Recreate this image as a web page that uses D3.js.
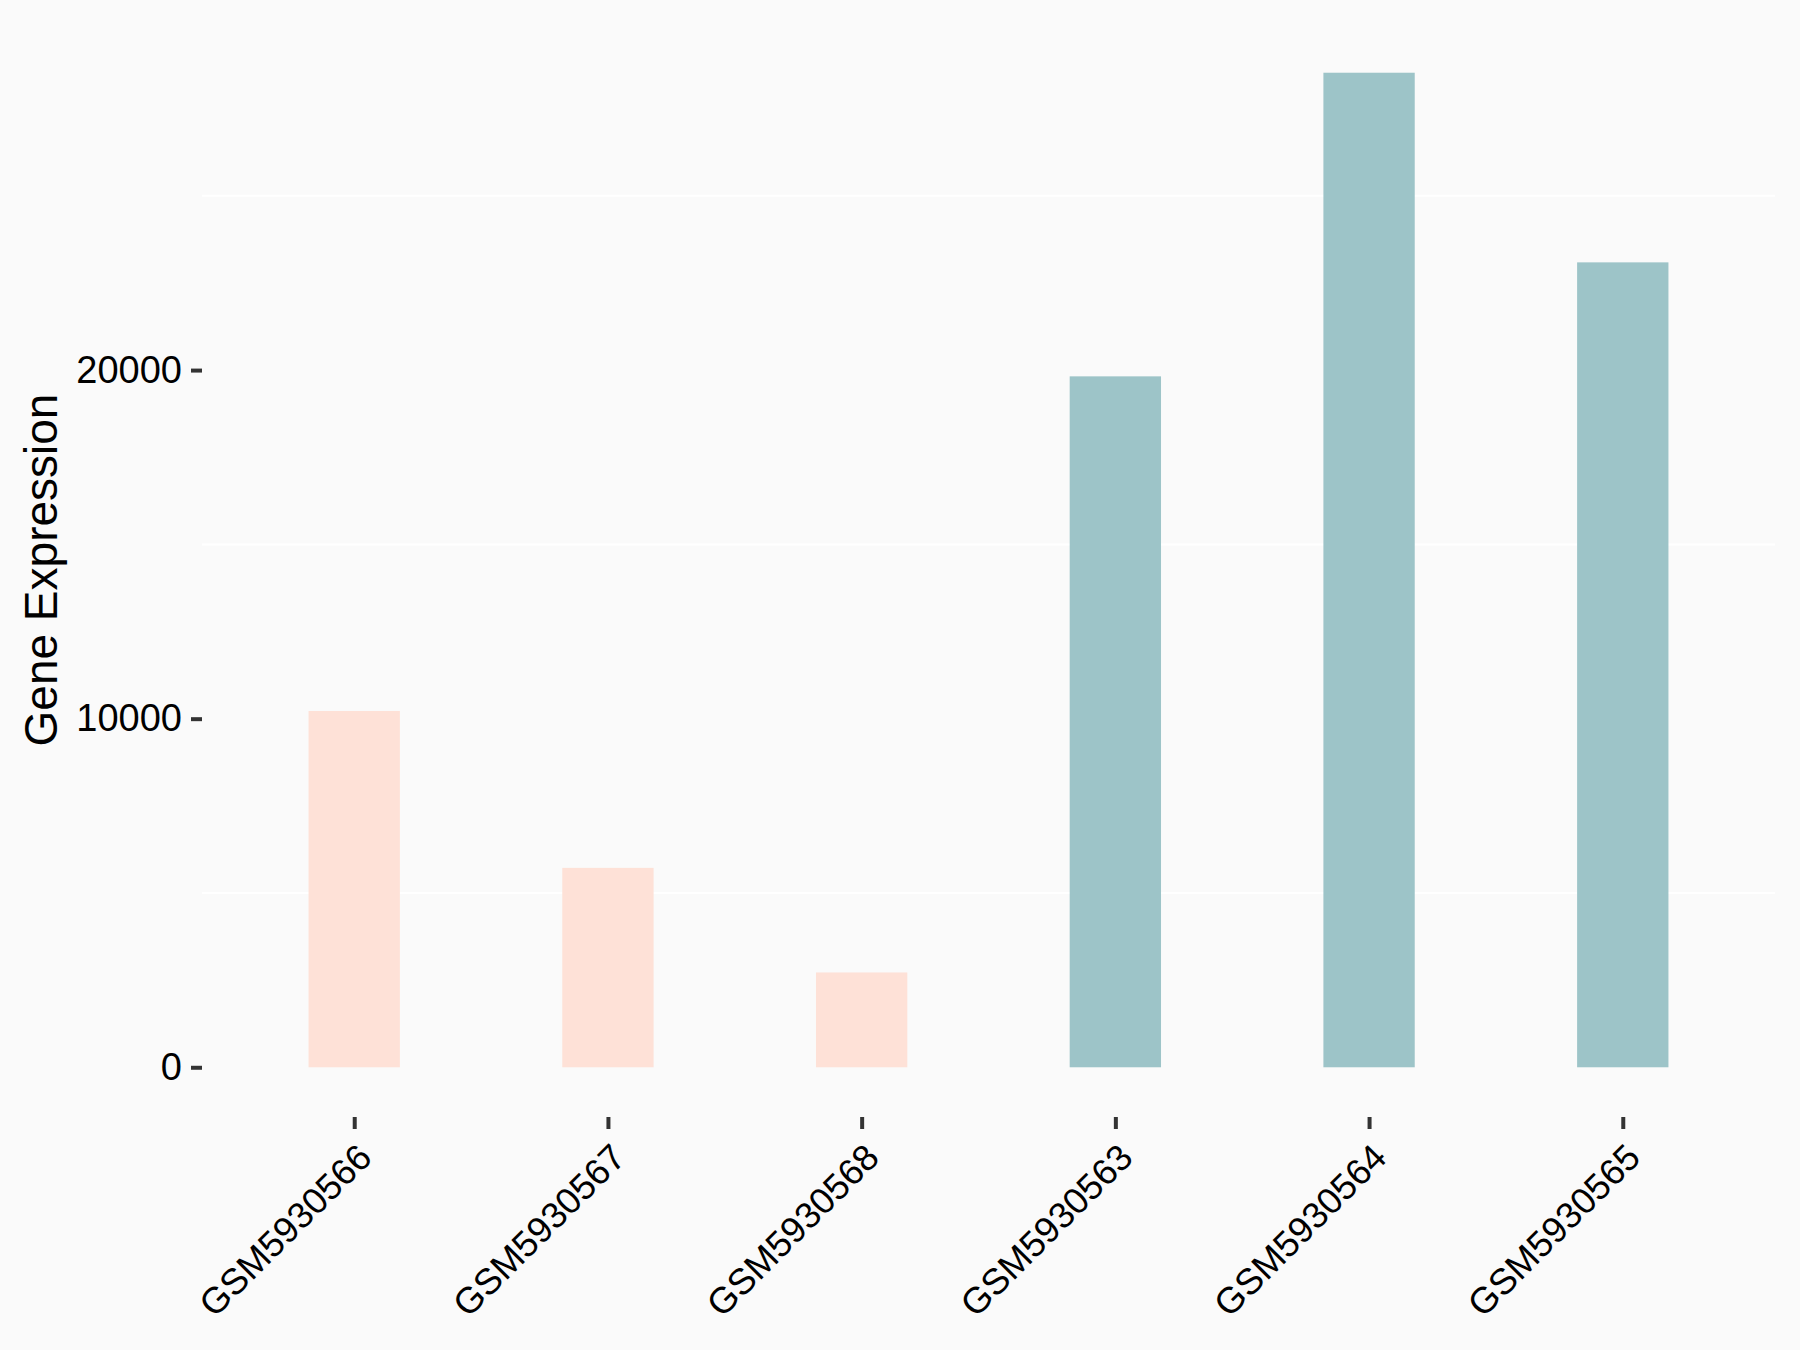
<!DOCTYPE html>
<html>
<head>
<meta charset="utf-8">
<script src="https://cdn.jsdelivr.net/npm/d3@7"></script>
<style>
  html, body { margin: 0; padding: 0; background: #fafafa; }
  svg { display: block; font-family: "Liberation Sans", Arial, sans-serif; }
</style>
</head>
<body>
<div id="chart"></div>
<script>
// Data
const samples = ['GSM5930566', 'GSM5930567', 'GSM5930568', 'GSM5930563', 'GSM5930564', 'GSM5930565'];
const expression = [10220, 5720, 2720, 19820, 28530, 23090];
const groups = ['A', 'A', 'A', 'B', 'B', 'B'];
const yTicks = [0, 10000, 20000];
const yMinorTicks = [5000, 15000, 25000];

const WIDTH = 1800, HEIGHT = 1350;
const PANEL = { left: 202, right: 1775, top: 23, bottom: 1117 };
const COLORS = { A: '#fee1d7', B: '#9dc4c8' };

const data = samples.map((s, i) => ({ sample: s, value: expression[i], group: groups[i] }));

const svg = d3.select('#chart').append('svg')
    .attr('width', WIDTH)
    .attr('height', HEIGHT);

svg.append('rect')
    .attr('width', WIDTH)
    .attr('height', HEIGHT)
    .attr('fill', '#fafafa');

// ggplot-style expansion: 0.6 of a band each side, 5% on the value axis
const x = d3.scalePoint()
    .domain(samples)
    .range([PANEL.left, PANEL.right])
    .padding(0.6);

const yMax = d3.max(expression);
const y = d3.scaleLinear()
    .domain([-0.05 * yMax, 1.05 * yMax])
    .range([PANEL.bottom, PANEL.top]);

const barWidth = x.step() * 0.36;

// Minor gridlines
svg.append('g')
    .selectAll('line')
    .data(yMinorTicks)
    .join('line')
    .attr('x1', PANEL.left)
    .attr('x2', PANEL.right)
    .attr('y1', d => y(d))
    .attr('y2', d => y(d))
    .attr('stroke', '#ffffff')
    .attr('stroke-width', 2);

// Bars
svg.append('g')
    .selectAll('rect')
    .data(data)
    .join('rect')
    .attr('x', d => x(d.sample) - barWidth / 2)
    .attr('width', barWidth)
    .attr('y', d => y(d.value))
    .attr('height', d => y(0) - y(d.value))
    .attr('fill', d => COLORS[d.group]);

// Y axis
const yAxis = d3.axisLeft(y)
    .tickValues(yTicks)
    .tickSize(11)
    .tickPadding(9)
    .tickFormat(d3.format('d'));

const yG = svg.append('g')
    .attr('transform', `translate(${PANEL.left}, 0)`)
    .call(yAxis);
yG.select('.domain').remove();
yG.selectAll('.tick line').attr('stroke', '#333333').attr('stroke-width', 4);
yG.selectAll('.tick text')
    .attr('fill', '#000')
    .style('font-size', '38px')
    .style('font-family', '"Liberation Sans", Arial, sans-serif');

// X axis
const xAxis = d3.axisBottom(x).tickSize(12).tickFormat('');
const xG = svg.append('g')
    .attr('transform', `translate(0, ${PANEL.bottom})`)
    .call(xAxis);
xG.select('.domain').remove();
xG.selectAll('.tick line').attr('stroke', '#333333').attr('stroke-width', 4);

// Rotated x labels
svg.append('g')
    .selectAll('text')
    .data(samples)
    .join('text')
    .attr('transform', d => `translate(${x(d) + 1}, ${PANEL.bottom + 24}) rotate(-45)`)
    .attr('text-anchor', 'end')
    .attr('dy', '0.72em')
    .style('font-size', '36.5px')
    .attr('fill', '#000')
    .text(d => d);

// Y axis title
svg.append('text')
    .attr('transform', `translate(${57}, ${(PANEL.top + PANEL.bottom) / 2}) rotate(-90)`)
    .attr('text-anchor', 'middle')
    .style('font-size', '46px')
    .attr('fill', '#000')
    .text('Gene Expression');
</script>
</body>
</html>
